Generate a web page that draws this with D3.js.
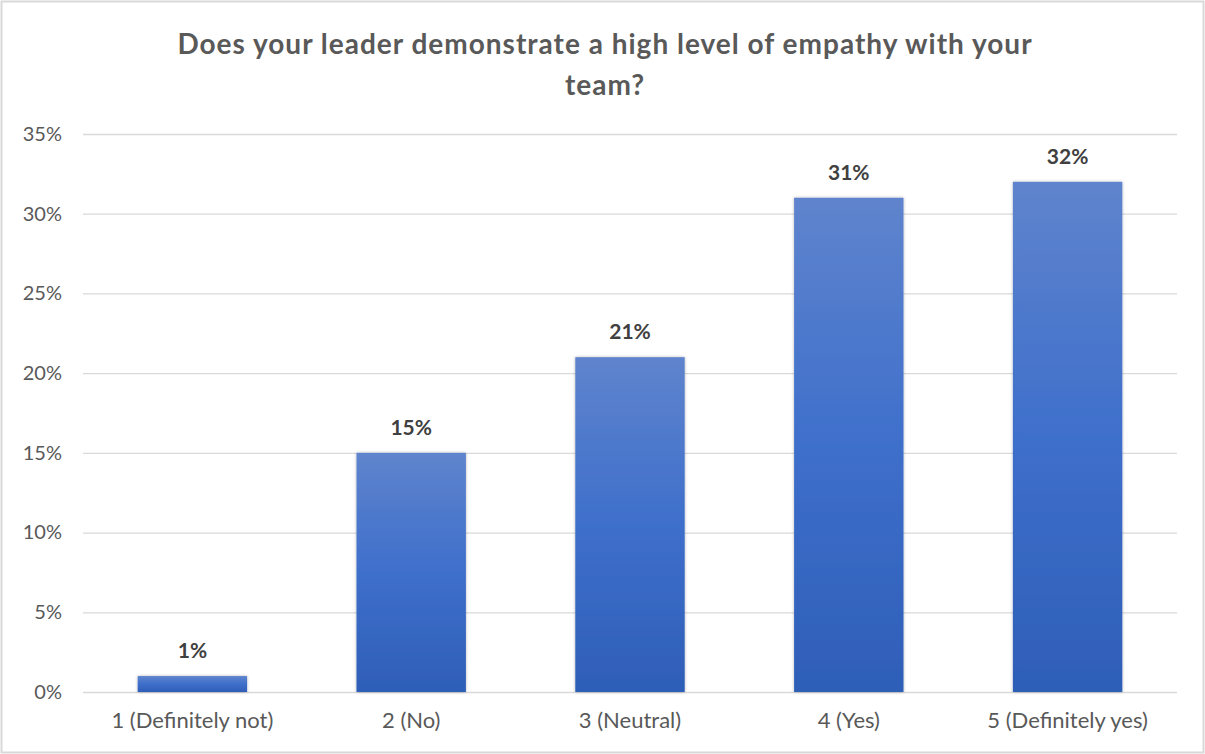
<!DOCTYPE html>
<html><head><meta charset="utf-8">
<script src="https://cdn.jsdelivr.net/npm/d3@7"></script>
<style>
html,body{margin:0;padding:0;background:#fff;}
svg{display:block;font-family:Lato, "Open Sans", sans-serif;}
</style></head>
<body>
<svg id="chart" width="1205" height="754"></svg>
<script>
const categories = ["1 (Definitely not)", "2 (No)", "3 (Neutral)", "4 (Yes)", "5 (Definitely yes)"];
const values = [0.01, 0.15, 0.21, 0.31, 0.32];
const yTicks = [0, 0.05, 0.10, 0.15, 0.20, 0.25, 0.30, 0.35];
const titleLines = ["Does your leader demonstrate a high level of empathy with your", "team?"];

const svg = d3.select("#chart");
const W = 1205, H = 754;
const m = {left: 83, right: 1177, top: 134, bottom: 692};

svg.append("rect").attr("x", 1.5).attr("y", 1.5).attr("width", W - 3).attr("height", H - 3)
  .attr("fill", "#fff").attr("stroke", "#d9d9d9").attr("stroke-width", 2);

const defs = svg.append("defs");
const grad = defs.append("linearGradient").attr("id", "barGrad").attr("x1", 0).attr("y1", 0).attr("x2", 0).attr("y2", 1);
grad.append("stop").attr("offset", "0%").attr("stop-color", "#5f84cd");
grad.append("stop").attr("offset", "50%").attr("stop-color", "#3e6fcb");
grad.append("stop").attr("offset", "100%").attr("stop-color", "#2e5eb7");
const flt = defs.append("filter").attr("id", "shadow").attr("x", "-10%").attr("y", "-10%").attr("width", "120%").attr("height", "120%");
flt.append("feDropShadow").attr("dx", 0).attr("dy", 0).attr("stdDeviation", 1.5).attr("flood-color", "#000").attr("flood-opacity", 0.3);

const x = d3.scaleBand().domain(categories).range([m.left, m.right]).paddingInner(0.5).paddingOuter(0.25);
const y = d3.scaleLinear().domain([0, 0.35]).range([m.bottom, m.top]);

// gridlines
const yAxis = d3.axisLeft(y).tickValues(yTicks).tickFormat(d3.format(".0%")).tickSize(-(m.right - m.left)).tickPadding(21);
const gy = svg.append("g").attr("transform", `translate(${m.left},0)`).call(yAxis);
gy.select(".domain").remove();
gy.selectAll(".tick line").attr("stroke", "#d9d9d9").attr("stroke-width", 1.3);
gy.selectAll(".tick text").attr("fill", "#595959").attr("font-size", 20).attr("font-family", "Lato, sans-serif");

// bars
svg.append("g").selectAll("rect").data(values).join("rect")
  .attr("x", (d, i) => x(categories[i]))
  .attr("y", d => y(d))
  .attr("width", x.bandwidth())
  .attr("height", d => y(0) - y(d))
  .attr("fill", "url(#barGrad)")
  .attr("filter", "url(#shadow)");

// data labels
svg.append("g").selectAll("text").data(values).join("text")
  .attr("x", (d, i) => x(categories[i]) + x.bandwidth() / 2)
  .attr("y", d => y(d) - 18)
  .attr("text-anchor", "middle")
  .attr("fill", "#404040").attr("font-size", 21).attr("font-weight", "bold")
  .text(d => d3.format(".0%")(d));

// x axis
const xAxis = d3.axisBottom(x).tickSize(0).tickPadding(20);
const gx = svg.append("g").attr("transform", `translate(0,${m.bottom})`).call(xAxis);
gx.select(".domain").remove();
gx.selectAll(".tick text").attr("fill", "#595959").attr("font-size", 22).attr("font-family", "Lato, sans-serif");

// title
svg.append("g").selectAll("text").data(titleLines).join("text")
  .attr("x", 605).attr("y", (d, i) => 54 + i * 41)
  .attr("text-anchor", "middle")
  .attr("fill", "#595959").attr("font-size", 28).attr("font-weight", "bold")
  .attr("letter-spacing", 1)
  .text(d => d);
</script>
</body></html>
